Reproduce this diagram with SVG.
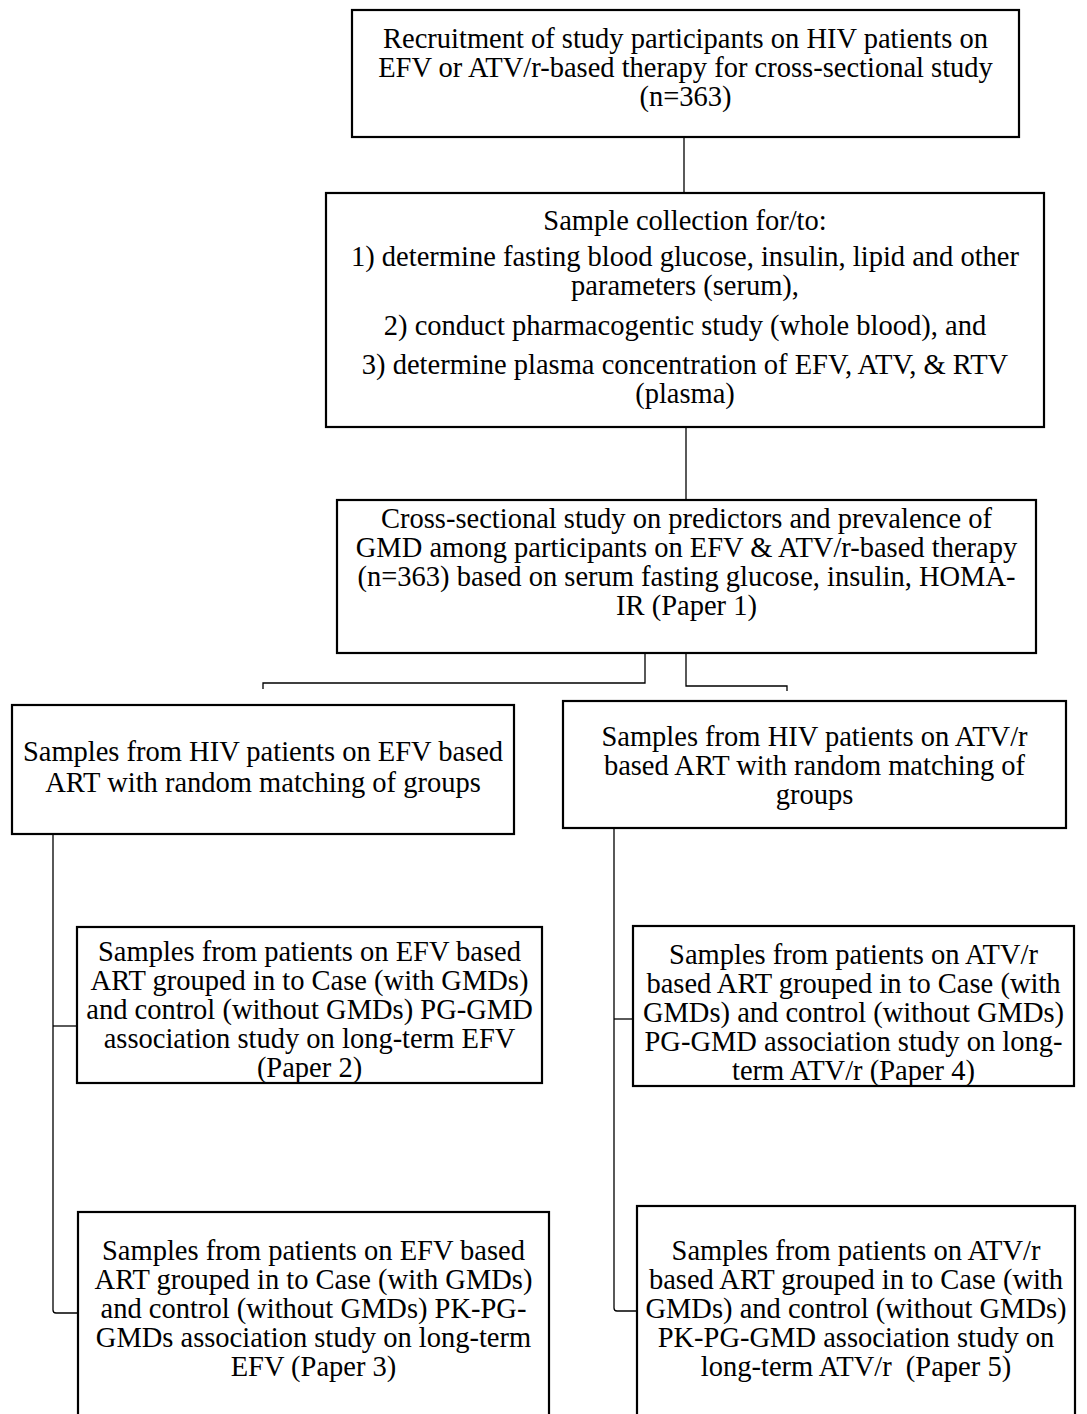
<svg xmlns="http://www.w3.org/2000/svg" width="1087" height="1414" viewBox="0 0 1087 1414">
<style>
.box{fill:#fff;stroke:#000;stroke-width:2.2}
.t{font-family:"Liberation Serif","Times New Roman",serif;font-size:28.5px;fill:#000;text-anchor:middle}
.c{fill:none;stroke:#000;stroke-width:1.3}
</style>
<rect width="1087" height="1414" fill="#fff"/>
<g id="connectors">
<path class="c" d="M684,137 V193"/>
<path class="c" d="M686,427 V500"/>
<path class="c" d="M645,653 V683 H263 V689"/>
<path class="c" d="M686,653 V686 H787 V691"/>
<path class="c" d="M53,834 V1310 Q53,1313 56,1313 H78"/>
<path class="c" d="M53,1026 H77"/>
<path class="c" d="M614,828 V1308 Q614,1311 617,1311 H637"/>
<path class="c" d="M614,1019 H633"/>
</g>
<g id="n1">
<rect class="box" x="352" y="10" width="667" height="127"/>
<text class="t" x="685.5" y="48">Recruitment of study participants on HIV patients on</text>
<text class="t" x="685.5" y="77">EFV or ATV/r-based therapy for cross-sectional study</text>
<text class="t" x="685.5" y="106">(n=363)</text>
</g>
<g id="n2">
<rect class="box" x="326" y="193" width="718" height="234"/>
<text class="t" x="685" y="230">Sample collection for/to:</text>
<text class="t" x="685" y="266">1) determine fasting blood glucose, insulin, lipid and other</text>
<text class="t" x="685" y="295">parameters (serum),</text>
<text class="t" x="685" y="335">2) conduct pharmacogentic study (whole blood), and</text>
<text class="t" x="685" y="374">3) determine plasma concentration of EFV, ATV, &amp; RTV</text>
<text class="t" x="685" y="403">(plasma)</text>
</g>
<g id="n3">
<rect class="box" x="337" y="500" width="699" height="153"/>
<text class="t" x="686.5" y="528">Cross-sectional study on predictors and prevalence of</text>
<text class="t" x="686.5" y="557">GMD among participants on EFV &amp; ATV/r-based therapy</text>
<text class="t" x="686.5" y="586">(n=363) based on serum fasting glucose, insulin, HOMA-</text>
<text class="t" x="686.5" y="615">IR (Paper 1)</text>
</g>
<g id="n4">
<rect class="box" x="12" y="705" width="502" height="129"/>
<text class="t" x="263" y="761">Samples from HIV patients on EFV based</text>
<text class="t" x="263" y="792">ART with random matching of groups</text>
</g>
<g id="n5">
<rect class="box" x="563" y="701" width="503" height="127"/>
<text class="t" x="814.5" y="746">Samples from HIV patients on ATV/r</text>
<text class="t" x="814.5" y="775">based ART with random matching of</text>
<text class="t" x="814.5" y="804">groups</text>
</g>
<g id="n6">
<rect class="box" x="77" y="927" width="465" height="156"/>
<text class="t" x="309.5" y="961">Samples from patients on EFV based</text>
<text class="t" x="309.5" y="990">ART grouped in to Case (with GMDs)</text>
<text class="t" x="309.5" y="1019">and control (without GMDs) PG-GMD</text>
<text class="t" x="309.5" y="1048">association study on long-term EFV</text>
<text class="t" x="309.5" y="1077">(Paper 2)</text>
</g>
<g id="n7">
<rect class="box" x="633" y="926" width="441" height="160"/>
<text class="t" x="853.5" y="964">Samples from patients on ATV/r</text>
<text class="t" x="853.5" y="993">based ART grouped in to Case (with</text>
<text class="t" x="853.5" y="1022">GMDs) and control (without GMDs)</text>
<text class="t" x="853.5" y="1051">PG-GMD association study on long-</text>
<text class="t" x="853.5" y="1080">term ATV/r (Paper 4)</text>
</g>
<g id="n8">
<rect class="box" x="78" y="1212" width="471" height="215"/>
<text class="t" x="313.5" y="1260">Samples from patients on EFV based</text>
<text class="t" x="313.5" y="1289">ART grouped in to Case (with GMDs)</text>
<text class="t" x="313.5" y="1318">and control (without GMDs) PK-PG-</text>
<text class="t" x="313.5" y="1347">GMDs association study on long-term</text>
<text class="t" x="313.5" y="1376">EFV (Paper 3)</text>
</g>
<g id="n9">
<rect class="box" x="637" y="1206" width="438" height="221"/>
<text class="t" x="856" y="1260">Samples from patients on ATV/r</text>
<text class="t" x="856" y="1289">based ART grouped in to Case (with</text>
<text class="t" x="856" y="1318">GMDs) and control (without GMDs)</text>
<text class="t" x="856" y="1347">PK-PG-GMD association study on</text>
<text class="t" x="856" y="1376" xml:space="preserve">long-term ATV/r  (Paper 5)</text>
</g>
</svg>
